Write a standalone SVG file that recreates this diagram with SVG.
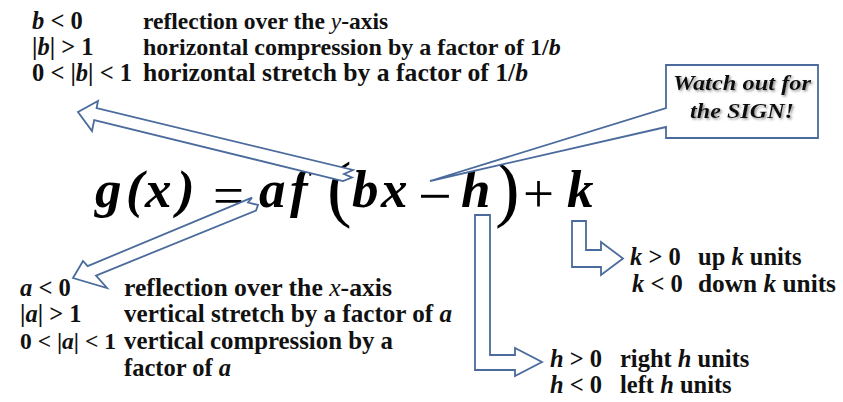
<svg xmlns="http://www.w3.org/2000/svg" width="843" height="402" viewBox="0 0 843 402">
<defs>
<style>
.t{font-weight:bold;font-size:24.5px;fill:#111}
.v{font-style:italic}
.vn{font-style:italic;font-weight:normal}
.eq{font-weight:bold;font-style:italic;font-size:53px;fill:#000}
.op{font-style:normal;font-weight:normal;font-size:55px}
.big{font-style:normal;font-weight:normal;font-size:74px}
.arr{fill:#fff;stroke:#4a6b9c;stroke-width:1.8;stroke-linejoin:miter}
.call{font-weight:bold;font-style:italic;font-size:21px;fill:#111;filter:url(#sh)}
</style>
<filter id="sh" x="-10%" y="-30%" width="130%" height="160%"><feDropShadow dx="1.5" dy="1.5" stdDeviation="0.8" flood-color="#777" flood-opacity="0.8"/></filter>
</defs>
<rect width="843" height="402" fill="#fff"/>
<g font-family="'Liberation Serif', 'Times New Roman', serif">
<g id="b-rules">
<text class="t" x="32" y="29"><tspan class="v">b</tspan> &lt; 0</text>
<text class="t" x="143" y="29" style="font-size:23.5px">reflection over the <tspan class="vn">y</tspan>-axis</text>
<text class="t" x="32" y="55">|<tspan class="v">b</tspan>| &gt; 1</text>
<text class="t" x="143" y="55" style="font-size:24px">horizontal compression by a factor of 1/<tspan class="v">b</tspan></text>
<text class="t" x="32" y="81">0 &lt; |<tspan class="v">b</tspan>| &lt; 1</text>
<text class="t" x="143" y="81" textLength="385" lengthAdjust="spacingAndGlyphs">horizontal stretch by a factor of 1/<tspan class="v">b</tspan></text>
</g>
<g id="equation">
<text class="eq" y="207"><tspan x="95">g</tspan><tspan x="126">(</tspan><tspan x="145">x</tspan><tspan x="177">)</tspan><tspan x="213" y="214" class="op">=</tspan><tspan x="259" y="207">a</tspan><tspan x="290">f</tspan><tspan x="327" y="213" class="big">(</tspan><tspan x="352" y="207">b</tspan><tspan x="381">x</tspan><tspan x="418" y="216" class="op" style="font-size:60px">−</tspan><tspan x="461" y="207">h</tspan><tspan x="495" y="213" class="big">)</tspan><tspan x="523" y="212" class="op">+</tspan><tspan x="567" y="207">k</tspan></text>
</g>
<g id="a-rules">
<text class="t" x="20" y="296"><tspan class="v">a</tspan> &lt; 0</text>
<text class="t" x="124" y="296" textLength="268" lengthAdjust="spacingAndGlyphs">reflection over the <tspan class="vn">x</tspan>-axis</text>
<text class="t" x="20" y="322">|<tspan class="v">a</tspan>| &gt; 1</text>
<text class="t" x="124" y="322" textLength="328" lengthAdjust="spacingAndGlyphs">vertical stretch by a factor of <tspan class="v">a</tspan></text>
<text class="t" x="20" y="349" style="font-size:23.5px">0 &lt; |<tspan class="v">a</tspan>| &lt; 1</text>
<text class="t" x="124" y="349" textLength="269" lengthAdjust="spacingAndGlyphs">vertical compression by a</text>
<text class="t" x="124" y="376">factor of <tspan class="v">a</tspan></text>
</g>
<g id="k-rules">
<text class="t" x="630" y="265"><tspan class="v">k</tspan> &gt; 0</text>
<text class="t" x="698" y="265">up <tspan class="v">k</tspan> units</text>
<text class="t" x="632" y="292"><tspan class="v">k</tspan> &lt; 0</text>
<text class="t" x="698" y="292" textLength="138" lengthAdjust="spacingAndGlyphs">down <tspan class="v">k</tspan> units</text>
</g>
<g id="h-rules">
<text class="t" x="550" y="367"><tspan class="v">h</tspan> &gt; 0</text>
<text class="t" x="620" y="367">right <tspan class="v">h</tspan> units</text>
<text class="t" x="550" y="393"><tspan class="v">h</tspan> &lt; 0</text>
<text class="t" x="620" y="393">left <tspan class="v">h</tspan> units</text>
</g>
</g>
<g id="connectors">
<path class="arr" d="M78,112 L98,101 L96.6,108.1 L353,170 L344,174 L352,177.5 L343,181 L94.2,120.1 L92,131 Z"/>
<path class="arr" d="M73,278 L83,261 L87.6,266.1 L252,197.6 L248,202.5 L258,205 L256,210.5 L96,275.6 L107,288 Z"/>
<path class="arr" d="M475,215 H490 V355 H515 V348 L542,362 L515,376 V370 H475 Z"/>
<path class="arr" d="M572,221 H586 V250 H601 V242 L623,258.5 L601,275 V267 H572 Z"/>
</g>
<g id="callout">
<path class="arr" d="M666,65 H818 V138 H666 V127 L430,181 L666,108 Z"/>
<text class="call" font-family="'Liberation Serif', 'Times New Roman', serif" x="742" y="90" text-anchor="middle" textLength="138" lengthAdjust="spacingAndGlyphs">Watch out for</text>
<text class="call" font-family="'Liberation Serif', 'Times New Roman', serif" x="742" y="118" text-anchor="middle" textLength="104" lengthAdjust="spacingAndGlyphs">the SIGN!</text>
</g>
</svg>
